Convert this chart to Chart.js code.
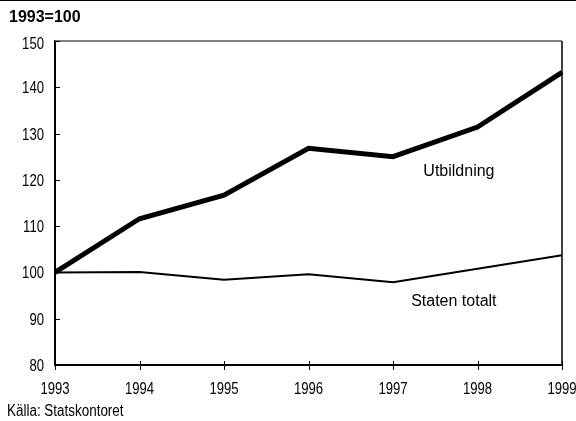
<!DOCTYPE html>
<html>
<head>
<meta charset="utf-8">
<script src="https://cdn.jsdelivr.net/npm/chart.js@4/dist/chart.umd.min.js"></script>
<style>
  body { margin: 0; background: #fff; }
  #wrap { position: relative; width: 576px; height: 421px; overflow: hidden; }
  #topline { position: absolute; left: 0; top: 0; width: 576px; height: 1px; background: #000; }
  #index { position: absolute; left: 9px; top: 8px; font: bold 16px "Liberation Sans", Arial, sans-serif; color: #000; }
  #source { position: absolute; left: 7px; top: 402px; font: 16px "Liberation Sans", Arial, sans-serif; color: #000;
            transform: scaleX(0.84); transform-origin: 0 0; white-space: nowrap; }
  canvas { position: absolute; left: 0; top: 0; }
</style>
</head>
<body>
<div id="wrap">
  <canvas id="myChart" width="576" height="421"></canvas>
  <div id="topline"></div>
  <div id="index">1993=100</div>
  <div id="source">Källa: Statskontoret</div>
</div>
<script>
let years = ["1993", "1994", "1995", "1996", "1997", "1998", "1999"]
let utbildning = [100, 111.6, 116.7, 126.8, 125.0, 131.4, 143.2]
let statenTotalt = [100, 100.1, 98.4, 99.6, 97.9, 100.8, 103.7]
let yTicks = [80, 90, 100, 110, 120, 130, 140, 150]

// narrow tick text: Liberation Sans squeezed sideways
function narrowText(ctx, text, x, y, align){
    ctx.save()
    ctx.translate(x, y)
    ctx.scale(0.82, 1)
    ctx.textAlign = align
    ctx.fillText(text, 0, 0)
    ctx.restore()
}

// frame, inward tick marks, tick labels and the series names inside the plot
let framePlugin = {
    id: 'frame',
    afterDraw(chart) {
        let ctx = chart.ctx
        let a = chart.chartArea
        let xs = chart.scales.x
        let ys = chart.scales.y
        ctx.save()

        ctx.strokeStyle = '#808080'
        ctx.lineWidth = 2
        ctx.beginPath()
        ctx.moveTo(a.left, a.top)
        ctx.lineTo(a.right, a.top)
        ctx.stroke()

        ctx.strokeStyle = '#000'
        ctx.lineWidth = 1.5
        ctx.beginPath()
        ctx.moveTo(a.right, a.top)
        ctx.lineTo(a.right, a.bottom)
        ctx.stroke()

        ctx.lineWidth = 1
        ctx.beginPath()
        for (let i = 0; i < yTicks.length; i++) {
            let py = Math.round(ys.getPixelForValue(yTicks[i])) + 0.5
            ctx.moveTo(a.left, py)
            ctx.lineTo(a.left + 5, py)
        }
        for (let i = 0; i < years.length; i++) {
            let px = Math.round(xs.getPixelForValue(i)) + 0.5
            ctx.moveTo(px, a.bottom - 4)
            ctx.lineTo(px, a.bottom + 5)
        }
        ctx.stroke()

        ctx.fillStyle = '#000'
        ctx.font = "16px 'Liberation Sans', Arial, sans-serif"
        ctx.textBaseline = 'alphabetic'
        for (let i = 0; i < yTicks.length; i++) {
            let py = ys.getPixelForValue(yTicks[i])
            if (i === yTicks.length - 1) py += 2
            narrowText(ctx, String(yTicks[i]), a.left - 11, py + 6, 'right')
        }
        for (let i = 0; i < years.length; i++) {
            narrowText(ctx, years[i], xs.getPixelForValue(i), a.bottom + 29, 'center')
        }

        ctx.textAlign = 'center'
        ctx.textBaseline = 'middle'
        ctx.fillText('Utbildning', xs.getPixelForValue(4.78), ys.getPixelForValue(121.8))
        ctx.fillText('Staten totalt', xs.getPixelForValue(4.72), ys.getPixelForValue(93.7))
        ctx.restore()
    }
}

let chart = new Chart("myChart", {
    type: "line",
    data: {
        labels: years,
        datasets: [{
            label: 'Utbildning',
            data: utbildning,
            borderColor: '#000',
            borderWidth: 5,
            pointRadius: 0,
            tension: 0,
            borderJoinStyle: 'miter'
        }, {
            label: 'Staten totalt',
            data: statenTotalt,
            borderColor: '#000',
            borderWidth: 2,
            pointRadius: 0,
            tension: 0
        }]
    },
    options: {
        responsive: false,
        animation: false,
        layout: {
            autoPadding: false,
            padding: {top: 41, right: 14, bottom: 21, left: 0}
        },
        plugins: {
            legend: {display: false},
            tooltip: {enabled: false},
            title: {display: false}
        },
        scales: {
            x: {
                offset: false,
                grid: {display: false, drawTicks: false, tickLength: 0},
                border: {display: true, color: '#000', width: 2},
                ticks: {display: false},
                afterFit(scale) {
                    scale.height = 35
                    scale.paddingLeft = 0
                    scale.paddingRight = 0
                }
            },
            y: {
                min: 80,
                max: 150,
                grid: {display: false, drawTicks: false, tickLength: 0},
                border: {display: true, color: '#000', width: 2},
                ticks: {display: false, stepSize: 10},
                afterFit(scale) {
                    scale.width = 55
                    scale.paddingTop = 0
                    scale.paddingBottom = 0
                }
            }
        }
    },
    plugins: [framePlugin]
})
</script>
</body>
</html>
